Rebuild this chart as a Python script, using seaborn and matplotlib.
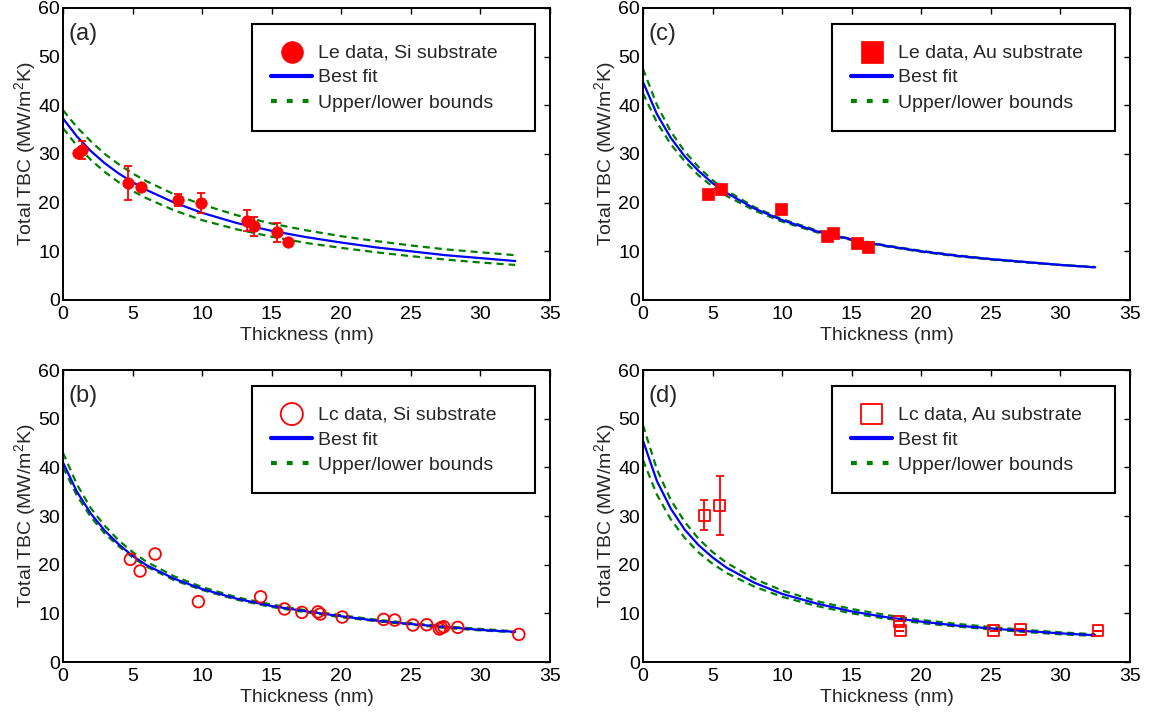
import numpy as np
import pandas as pd
import seaborn as sns
import matplotlib
matplotlib.use('Agg')
import matplotlib.pyplot as plt

fit_t = [0, 1, 2, 3, 4, 5, 6, 8, 10, 12.5, 15, 17.5, 20, 22.5, 25, 27.5, 30, 32.5]

# (a) Le data, Si substrate
le_si_t = [1.1, 1.4, 4.7, 5.6, 8.3, 9.9, 13.2, 13.7, 15.4, 16.2]
le_si_g = [30.3, 30.8, 24.0, 23.2, 20.5, 19.9, 16.3, 15.1, 13.9, 12.0]
le_si_err = [0, 1.9, 3.5, 0, 1.2, 2.0, 2.2, 2.0, 1.95, 0]
le_si_best = [37.3, 33.6, 30.6, 28.1, 26.0, 24.2, 22.6, 20.0, 17.9, 15.8, 14.2, 12.9, 11.8, 10.8, 10.0, 9.2, 8.6, 8.0]
le_si_upper = [39.0, 35.5, 32.6, 30.0, 27.9, 26.0, 24.4, 21.7, 19.6, 17.4, 15.7, 14.3, 13.1, 12.1, 11.2, 10.4, 9.8, 9.2]
le_si_lower = [35.3, 31.7, 28.8, 26.3, 24.2, 22.4, 20.9, 18.4, 16.4, 14.5, 13.0, 11.7, 10.7, 9.8, 9.0, 8.3, 7.7, 7.2]

# (b) Lc data, Si substrate
lc_si_t = [4.84, 5.54, 6.62, 9.73, 14.2, 15.92, 17.17, 18.32, 18.49, 20.07, 23.04, 23.84,
           25.15, 26.14, 27.05, 27.19, 27.36, 28.37, 32.76]
lc_si_g = [21.1, 18.7, 22.2, 12.4, 13.4, 10.9, 10.2, 10.3, 9.86, 9.24, 8.76, 8.62,
           7.6, 7.66, 6.78, 7.05, 7.25, 7.12, 5.68]
lc_si_best = [41.0, 35.0, 30.5, 27.0, 24.2, 21.8, 19.9, 17.1, 15.0, 13.0, 11.5, 10.4, 9.4, 8.5, 7.8, 7.2, 6.6, 6.2]
lc_si_upper = [43.0, 36.5, 31.6, 28.0, 25.0, 22.6, 20.6, 17.6, 15.4, 13.3, 11.8, 10.6, 9.6, 8.7, 8.0, 7.3, 6.8, 6.3]
lc_si_lower = [40.0, 34.2, 29.8, 26.4, 23.8, 21.5, 19.6, 16.8, 14.8, 12.8, 11.3, 10.2, 9.2, 8.4, 7.7, 7.0, 6.5, 6.1]

# (c) Le data, Au substrate
le_au_t = [4.65, 5.6, 9.9, 13.2, 13.65, 15.4, 16.2]
le_au_g = [21.7, 22.8, 18.6, 13.1, 13.8, 11.8, 10.9]
le_au_best = [44.8, 38.2, 33.3, 29.5, 26.5, 24.0, 22.0, 18.8, 16.4, 14.1, 12.4, 11.1, 10.0, 9.1, 8.4, 7.8, 7.2, 6.7]
le_au_upper = [47.5, 40.1, 34.6, 30.5, 27.3, 24.6, 22.5, 19.1, 16.6, 14.3, 12.5, 11.2, 10.1, 9.2, 8.4, 7.8, 7.2, 6.8]
le_au_lower = [42.5, 36.5, 32.0, 28.5, 25.6, 23.3, 21.4, 18.4, 16.1, 13.9, 12.3, 11.0, 9.9, 9.0, 8.3, 7.7, 7.2, 6.7]

# (d) Lc data, Au substrate
lc_au_t = [4.39, 5.52, 18.4, 18.5, 25.2, 27.1, 32.7]
lc_au_g = [30.2, 32.2, 8.4, 6.4, 6.4, 6.7, 6.4]
lc_au_err = [3.1, 6.0, 0, 0, 0, 0, 0]
lc_au_best = [45.5, 37.2, 31.5, 27.2, 24.0, 21.5, 19.4, 16.3, 14.0, 12.0, 10.4, 9.2, 8.3, 7.5, 6.9, 6.35, 5.9, 5.5]
lc_au_upper = [48.7, 39.6, 33.3, 28.8, 25.3, 22.6, 20.4, 17.1, 14.7, 12.5, 10.9, 9.65, 8.65, 7.85, 7.2, 6.6, 6.1, 5.7]
lc_au_lower = [41.5, 34.4, 29.3, 25.5, 22.5, 20.2, 18.3, 15.5, 13.4, 11.5, 10.0, 8.9, 8.0, 7.3, 6.7, 6.15, 5.7, 5.35]

xticks = [0, 5, 10, 15, 20, 25, 30, 35]
yticks = [0, 10, 20, 30, 40, 50, 60]

RED = '#ff0000'
BLUE = '#0000ff'
GREEN = '#008000'

sns.set_theme(style='white')
plt.rcParams['font.family'] = ['Liberation Sans', 'DejaVu Sans']
plt.rcParams['mathtext.fontset'] = 'custom'
plt.rcParams['mathtext.rm'] = 'Liberation Sans'
plt.rcParams['mathtext.it'] = 'Liberation Sans:italic'
plt.rcParams['axes.edgecolor'] = 'black'
plt.rcParams['axes.linewidth'] = 1.4

fig = plt.figure(figsize=(11.56, 7.12), dpi=100)

panels = [
    # left, bottom, tag, t, g, err, best, upper, lower, marker, filled, label
    (0.0545, 0.5787, '(a)', le_si_t, le_si_g, le_si_err, le_si_best, le_si_upper, le_si_lower, 'o', True, 'Le data, Si substrate'),
    (0.0545, 0.0702, '(b)', lc_si_t, lc_si_g, None, lc_si_best, lc_si_upper, lc_si_lower, 'o', False, 'Lc data, Si substrate'),
    (0.5562, 0.5787, '(c)', le_au_t, le_au_g, None, le_au_best, le_au_upper, le_au_lower, 's', True, 'Le data, Au substrate'),
    (0.5562, 0.0702, '(d)', lc_au_t, lc_au_g, lc_au_err, lc_au_best, lc_au_upper, lc_au_lower, 's', False, 'Lc data, Au substrate'),
]

FS = 14

for left, bottom, tag, t, g, err, best, upper, lower, marker, filled, label in panels:
    ax = fig.add_axes([left, bottom, 0.4213, 0.4101])

    dash = (0, (3.2, 2.2))
    sns.lineplot(x=fit_t, y=upper, ax=ax, color=GREEN, lw=1.6, linestyle=dash,
                 label='Upper/lower bounds', zorder=2)
    sns.lineplot(x=fit_t, y=lower, ax=ax, color=GREEN, lw=1.6, linestyle=dash,
                 legend=False, zorder=2)
    sns.lineplot(x=fit_t, y=best, ax=ax, color=BLUE, lw=1.6, label='Best fit', zorder=2)

    if err is not None:
        ax.errorbar(t, g, yerr=err, fmt='none', ecolor=RED, elinewidth=1.3,
                    capsize=3, capthick=1.3, zorder=3)

    if filled:
        size = 68 if marker == 'o' else 72
        sns.scatterplot(x=t, y=g, ax=ax, marker=marker, s=size, color=RED,
                        edgecolor=RED, linewidth=0.5, label=label, zorder=4)
    else:
        size = 70 if marker == 'o' else 62
        sns.scatterplot(x=t, y=g, ax=ax, marker=marker, s=size, facecolor='none',
                        edgecolor=RED, linewidth=1.3, label=label, zorder=4)

    ax.set_xlim(0, 35)
    ax.set_ylim(0, 60)
    ax.set_xticks(xticks)
    ax.set_yticks(yticks)
    ax.tick_params(direction='in', top=True, right=True, length=4, width=1,
                   labelsize=FS, colors='black')
    ax.tick_params(axis='x', pad=4.5)
    ax.tick_params(axis='y', pad=2)
    for s in ax.spines.values():
        s.set_visible(True)
        s.set_color('black')
        s.set_linewidth(1.4)

    ax.set_xlabel('Thickness (nm)', fontsize=FS, labelpad=3)
    ax.set_ylabel('Total TBC (MW/m$^{\\mathrm{2}}$K)', fontsize=FS, labelpad=0.5)
    ax.text(0.012, 0.912, tag, transform=ax.transAxes, ha='left', va='center', fontsize=17)

    h, l = ax.get_legend_handles_labels()
    order = [label, 'Best fit', 'Upper/lower bounds']
    handles = [h[l.index(k)] for k in order]
    leg = ax.legend(handles, order, loc='upper left', bbox_to_anchor=(0.388, 0.579, 0.581, 0.366),
                    mode='expand', markerscale=1.9, fontsize=FS, frameon=True, fancybox=False,
                    edgecolor='black', framealpha=1, handlelength=2.1, handletextpad=0.3,
                    borderpad=1.0, labelspacing=0.4, borderaxespad=0)
    leg.get_frame().set_linewidth(1.5)
    for ln in leg.get_lines():
        ln.set_linewidth(3)
        if ln.get_color() == GREEN:
            ln.set_dashes((1.4, 2.4))

fig.savefig('out.png', dpi=100)
